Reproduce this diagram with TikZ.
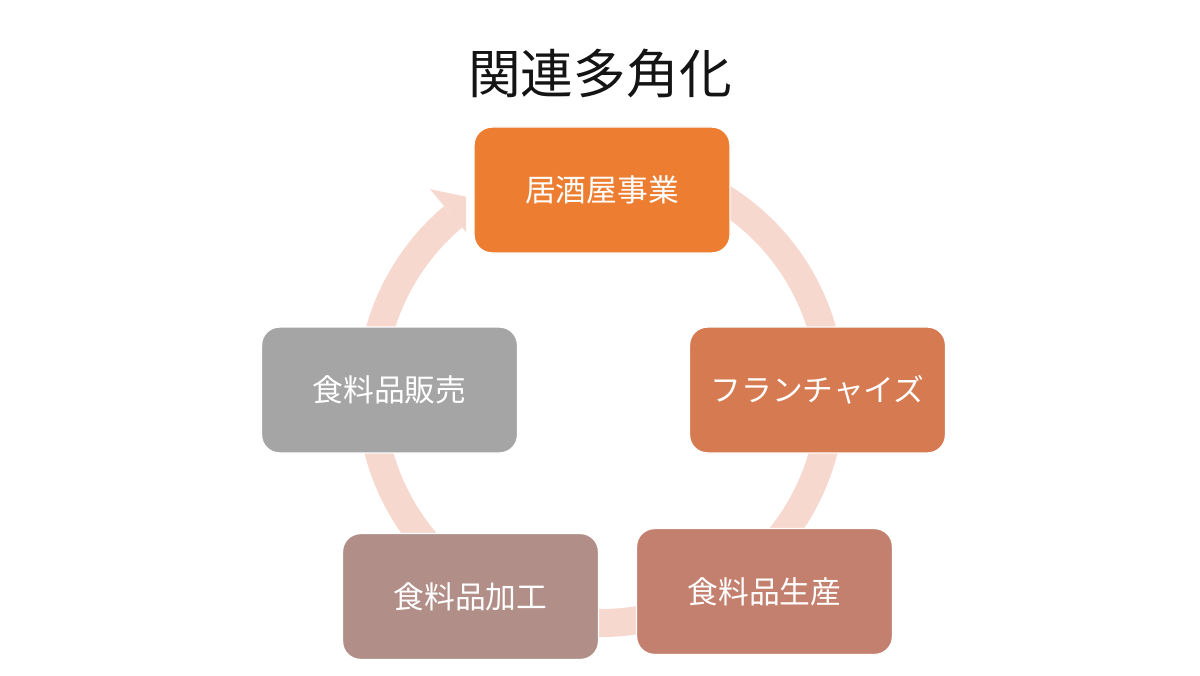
\documentclass[tikz,border=0pt]{standalone}
\usepackage{fontspec}
\usepackage{tikz}
\newfontfamily\jpfont{Noto Sans CJK JP}
\definecolor{ringPink}{RGB}{247,216,206}
\definecolor{stepOrange}{RGB}{237,125,49}
\definecolor{stepRust}{RGB}{214,122,82}
\definecolor{stepClay}{RGB}{196,128,111}
\definecolor{stepMauve}{RGB}{177,142,135}
\definecolor{stepGray}{RGB}{165,165,165}
\definecolor{titleBlack}{RGB}{20,20,20}

\begin{document}
\begin{tikzpicture}[font=\jpfont]
		% Canvas
		\path[fill=white] (0,0) rectangle (24,13.5);
		\useasboundingbox (0,0) rectangle (24,13.5);

		% Title
		\node (title) at (12.0,12.02) [text=titleBlack, font=\jpfont\fontsize{30}{36}\selectfont] {関連多角化};

		% Ring
		\coordinate (ring) at (12.02,5.64);
		\draw[draw=ringPink, line width=0.56cm] (ring) ++(90:4.6) arc[start angle=90, end angle=-230, radius=4.6];
		\begin{scope}
			\clip (0,0) rectangle (9.32,13.5);
			\fill[ringPink, shift={(ring)}] (130:3.92) -- (130:5.32) -- (122.5:4.6) -- cycle;
		\end{scope}

		% Steps
		\begin{scope}[every node/.style={rectangle, rounded corners=0.36cm, draw=white, line width=0.8pt,
				minimum width=5.12cm, minimum height=2.52cm, text=white,
				font=\jpfont\fontsize{17.5}{21}\selectfont}]
			\node (izakaya) at (12.04,9.70) [fill=stepOrange] {居酒屋事業};
			\node (franchise) at (16.35,5.70) [fill=stepRust] {フランチャイズ};
			\node (seisan) at (15.29,1.67) [fill=stepClay] {食料品生産};
			\node (kakou) at (9.41,1.57) [fill=stepMauve] {食料品加工};
			\node (hanbai) at (7.79,5.70) [fill=stepGray] {食料品販売};
		\end{scope}
	\end{tikzpicture}
\end{document}
